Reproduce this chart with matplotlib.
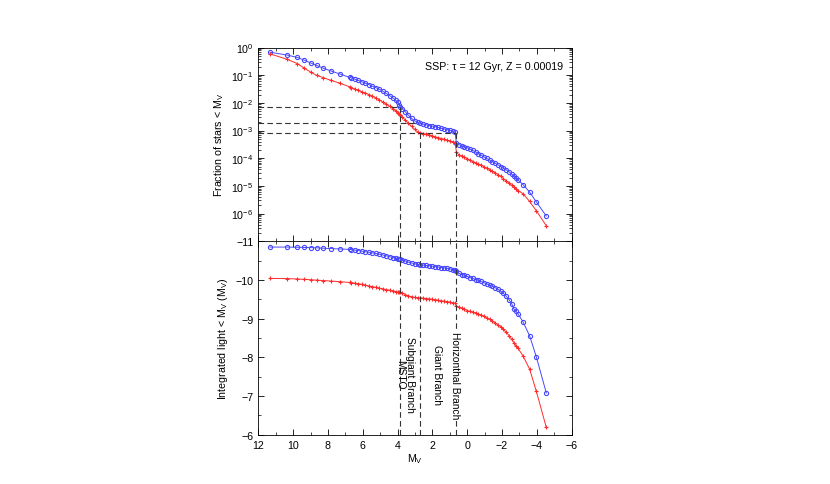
import numpy as np
import matplotlib
matplotlib.use("Agg")
import matplotlib.pyplot as plt
from matplotlib.ticker import LogLocator, MultipleLocator, NullFormatter

plt.rcParams['font.family'] = ['Liberation Sans', 'DejaVu Sans']
plt.rcParams['mathtext.default'] = 'regular'
plt.rcParams['font.size'] = 7.7

# ---- data ----
mv = [11.33, 10.37, 9.76, 9.35, 8.99, 8.64, 8.26, 7.82, 7.30, 6.76,
      6.65, 6.45, 6.25, 6.05, 5.85, 5.65, 5.45, 5.25, 5.05, 4.85, 4.65, 4.45, 4.25, 4.10, 3.98, 3.90, 3.85,
      3.72, 3.55, 3.38, 3.20, 3.02, 2.85, 2.70,
      2.52, 2.35, 2.18, 2.00, 1.83, 1.66, 1.49, 1.32, 1.15, 0.98, 0.82, 0.70,
      0.62, 0.48, 0.32, 0.16, 0.0, -0.16, -0.32, -0.48, -0.64, -0.80, -0.96, -1.12, -1.28, -1.44,
      -1.60, -1.76, -1.92, -2.08, -2.24, -2.40, -2.55, -2.68, -2.80, -2.92, -3.20, -3.58, -3.97, -4.54]

# log10 of fraction of stars brighter than M_V
logfrac_blue = [-0.17, -0.27, -0.36, -0.46, -0.56, -0.65, -0.75, -0.85, -0.96, -1.08,
                -1.10, -1.145, -1.19, -1.24, -1.29, -1.34, -1.40, -1.45, -1.51, -1.58, -1.66, -1.74, -1.83, -1.91, -1.98, -2.06, -2.15,
                -2.22, -2.33, -2.45, -2.56, -2.65, -2.70, -2.73,
                -2.77, -2.79, -2.82, -2.84, -2.86, -2.89, -2.92, -2.94, -2.97, -2.99, -3.02, -3.06,
                -3.45, -3.51, -3.55, -3.59, -3.62, -3.67, -3.72, -3.77, -3.83, -3.89, -3.95, -4.01, -4.06, -4.12,
                -4.18, -4.24, -4.30, -4.36, -4.42, -4.49, -4.57, -4.65, -4.72, -4.79, -4.95, -5.22, -5.58, -6.09]

logfrac_red = [-0.23, -0.42, -0.58, -0.75, -0.89, -1.01, -1.09, -1.19, -1.29, -1.42,
               -1.45, -1.50, -1.55, -1.60, -1.65, -1.70, -1.76, -1.82, -1.89, -1.97, -2.05, -2.13, -2.22, -2.29, -2.35, -2.40, -2.44,
               -2.52, -2.63, -2.74, -2.85, -2.96, -3.05, -3.08,
               -3.11, -3.13, -3.16, -3.19, -3.23, -3.26, -3.29, -3.32, -3.35, -3.38, -3.41, -3.44,
               -3.78, -3.88, -3.92, -3.96, -4.02, -4.07, -4.12, -4.16, -4.21, -4.26, -4.31, -4.36, -4.41, -4.47,
               -4.53, -4.59, -4.66, -4.74, -4.82, -4.90, -4.98, -5.05, -5.12, -5.17, -5.28, -5.56, -5.90, -6.44]

# integrated light (magnitude) of stars brighter than M_V
light_blue = [-10.85, -10.85, -10.845, -10.84, -10.835, -10.83, -10.82, -10.81, -10.80, -10.79,
              -10.785, -10.77, -10.76, -10.745, -10.73, -10.715, -10.70, -10.685, -10.665, -10.645, -10.625, -10.60, -10.58, -10.565, -10.55, -10.545, -10.54,
              -10.52, -10.49, -10.46, -10.44, -10.42, -10.40, -10.39,
              -10.385, -10.375, -10.365, -10.355, -10.345, -10.335, -10.32, -10.31, -10.30, -10.285, -10.27, -10.26,
              -10.22, -10.17, -10.14, -10.12, -10.09, -10.06, -10.04, -10.01, -9.99, -9.96, -9.93, -9.90, -9.87, -9.84,
              -9.80, -9.76, -9.71, -9.65, -9.58, -9.49, -9.39, -9.25, -9.19, -9.12, -8.92, -8.56, -8.01, -7.08]

light_red = [-10.04, -10.035, -10.025, -10.015, -10.005, -9.995, -9.985, -9.97, -9.955, -9.935,
             -9.93, -9.915, -9.90, -9.885, -9.865, -9.845, -9.825, -9.81, -9.79, -9.77, -9.75, -9.735, -9.715, -9.70, -9.69, -9.685, -9.68,
             -9.66, -9.62, -9.59, -9.565, -9.55, -9.54, -9.535,
             -9.53, -9.52, -9.51, -9.50, -9.49, -9.475, -9.46, -9.45, -9.44, -9.425, -9.41, -9.40,
             -9.33, -9.29, -9.265, -9.24, -9.21, -9.19, -9.17, -9.15, -9.12, -9.09, -9.06, -9.02, -8.98, -8.94,
             -8.89, -8.84, -8.79, -8.72, -8.65, -8.56, -8.47, -8.38, -8.30, -8.23, -8.04, -7.70, -7.12, -6.19]

# phase markers: (M_V, fraction level)
phase_mv = [3.85, 2.74, 0.65]
phase_frac_v = [7e-3, 8.3e-4, 8.3e-4]     # where vertical lines start in top panel
hline_frac = [7e-3, 1.9e-3, 8.3e-4]
hline_end = [3.85, 2.97, 0.65]

blue = '#4848ff'
red = '#ff2a2a'
dash_col = '#333333'

fig = plt.figure(figsize=(8.3, 4.85), dpi=100)
ax1 = fig.add_axes([0.3112, 0.5005, 0.3776, 0.3995])
ax2 = fig.add_axes([0.3112, 0.1016, 0.3776, 0.3989], sharex=ax1)

frac_blue = 10.0 ** np.array(logfrac_blue)
frac_red = 10.0 ** np.array(logfrac_red)

mk_b = dict(color=blue, lw=0.7, marker='o', ms=3.0, mfc='none', mec=blue, mew=0.8)
mk_r = dict(color=red, lw=0.7, marker='+', ms=3.2, mec=red, mew=0.8)

ax1.plot(mv, frac_blue, '-', **mk_b)
ax1.plot(mv, frac_red, '-', **mk_r)
ax1.set_yscale('log')
ax1.set_ylim(1e-7, 1)
ax1.set_xlim(12, -6)
ax1.set_yticks([1e0, 1e-1, 1e-2, 1e-3, 1e-4, 1e-5, 1e-6])
ax1.yaxis.set_minor_locator(LogLocator(base=10, subs=np.arange(2, 10), numticks=20))
ax1.yaxis.set_minor_formatter(NullFormatter())
ax1.set_ylabel('Fraction of stars < M$_V$')
ax1.text(0.972, 0.905, 'SSP: \u03c4 = 12 Gyr, Z = 0.00019', transform=ax1.transAxes,
         ha='right', va='center', fontsize=7.7)

dash = dict(color=dash_col, lw=0.8, ls=(0, (5, 3)))
for f, xe in zip(hline_frac, hline_end):
    ax1.plot([12, xe], [f, f], **dash)
for x, f in zip(phase_mv, phase_frac_v):
    ax1.plot([x, x], [f, 1e-7], **dash)
plt.setp(ax1.get_xticklabels(), visible=False)

ax2.plot(mv, light_blue, '-', **mk_b)
ax2.plot(mv, light_red, '-', **mk_r)
ax2.set_ylim(-6, -11)
ax2.set_xlim(12, -6)
ax2.yaxis.set_major_locator(MultipleLocator(1))
ax2.yaxis.set_minor_locator(MultipleLocator(0.5))
ax2.xaxis.set_major_locator(MultipleLocator(2))
ax2.xaxis.set_minor_locator(MultipleLocator(1))
ax2.set_xlabel('M$_V$', labelpad=1)
ax2.set_ylabel('Integrated light < M$_V$ (M$_V$)')
for x in phase_mv:
    ax2.axvline(x, **dash)

ax2.text(3.58, -7.58, 'Subgiant Branch\nMSTO', rotation=-90, ha='center', va='center',
         multialignment='center', fontsize=7.4, linespacing=0.95)
ax2.text(1.74, -7.56, 'Giant Branch', rotation=-90, ha='center', va='center', fontsize=7.4)
ax2.text(0.69, -7.56, 'Horizonthal Branch', rotation=-90, ha='center', va='center', fontsize=7.4,
         bbox=dict(facecolor='white', edgecolor='none', pad=1.0))

for ax in (ax1, ax2):
    ax.tick_params(which='both', direction='in', top=True, right=True, labelsize=7.7)
    ax.tick_params(which='major', length=4, width=0.6)
    ax.tick_params(which='minor', length=2, width=0.5)
    for s in ax.spines.values():
        s.set_linewidth(0.6)
ax1.xaxis.set_minor_locator(MultipleLocator(1))

fig.savefig('out.png', dpi=100)
